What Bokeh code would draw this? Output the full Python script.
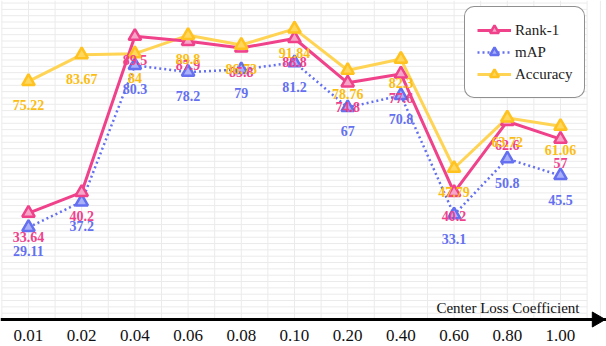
import numpy as np
from bokeh.plotting import figure
from bokeh.models import (ColumnDataSource, Range1d, LinearAxis, FixedTicker,
                          Legend, LegendItem, Label)
from bokeh.core.properties import value
from bokeh.embed import file_html
from bokeh.resources import INLINE

categories = ["0.01", "0.02", "0.04", "0.06", "0.08", "0.10", "0.20", "0.40", "0.60", "0.80", "1.00"]
rank1 = [33.64, 40.2, 89.5, 87.9, 85.8, 88.8, 74.8, 77.6, 40.2, 62.6, 57]
mAP = [29.11, 37.2, 80.3, 78.2, 79, 81.2, 67, 70.8, 33.1, 50.8, 45.5]
accuracy = [75.22, 83.67, 84, 89.8, 86.73, 91.84, 78.76, 82.3, 47.79, 63.72, 61.06]
axis_title = "Center Loss Coefficient"

xs = list(range(len(categories)))

SERIF = "Liberation Serif"

p = figure(width=606, height=346, output_backend="svg", toolbar_location=None,
           x_range=Range1d(-0.526, 10.865), y_range=Range1d(-8.53, 100.8),
           x_axis_type=None, y_axis_type=None,
           min_border_left=0, min_border_right=0, min_border_top=0, min_border_bottom=0)
p.outline_line_color = None
p.background_fill_color = "white"
p.border_fill_color = "white"

# background grid (spreadsheet-like)
GRID = "#ebebeb"
vx = [i * 0.5 - 0.5 for i in range(23)]
p.segment(x0=vx, x1=vx, y0=[0] * len(vx), y1=[100.8] * len(vx), line_color=GRID, line_width=1)
p.segment(x0=[10.75], x1=[10.75], y0=[0], y1=[100.8], line_color=GRID, line_width=1)
hy = list(np.arange(2, 101, 2))
p.segment(x0=[-0.5] * len(hy), x1=[10.5] * len(hy), y0=hy, y1=hy, line_color=GRID, line_width=1)

# x axis, drawn at y = 0
xaxis = LinearAxis(ticker=FixedTicker(ticks=xs), fixed_location=0,
                   major_label_overrides={i: c for i, c in zip(xs, categories)})
xaxis.axis_line_color = "black"
xaxis.axis_line_width = 3
xaxis.major_tick_line_color = None
xaxis.minor_tick_line_color = None
xaxis.major_tick_out = 0
xaxis.major_tick_in = 0
xaxis.major_label_standoff = 10
xaxis.major_label_text_font = SERIF
xaxis.major_label_text_font_size = "17px"
xaxis.major_label_text_color = "#111111"
p.add_layout(xaxis, "below")

# arrow head at the end of the axis
p.scatter(x=[10.68], y=[0], marker="triangle", size=15, angle=-np.pi / 2,
          fill_color="black", line_color="black", line_width=1)

p.add_layout(Label(x=10.357, y=3.5, text=axis_title, text_align="right", text_baseline="middle",
                   text_font=SERIF, text_font_size="15px", text_color="#111111"))

PINK, PINK_F = "#f0418b", "#f5a6c8"
BLUE, BLUE_F = "#6470f0", "#a9b0f8"
GOLD_L, GOLD_E, GOLD_F, GOLD_T = "#ffd454", "#ffc21f", "#ffd65e", "#fbbd13"

src_r = ColumnDataSource(dict(x=xs, y=rank1, t=[f"{v:g}" for v in rank1]))
src_m = ColumnDataSource(dict(x=xs, y=mAP, t=[f"{v:g}" for v in mAP]))
src_a = ColumnDataSource(dict(x=xs, y=accuracy, t=[f"{v:g}" for v in accuracy]))

lm = p.line("x", "y", source=src_m, line_color=BLUE, line_width=2.5, line_dash="2 3")
la = p.line("x", "y", source=src_a, line_color=GOLD_L, line_width=3)
lr = p.line("x", "y", source=src_r, line_color=PINK, line_width=3)

sm = p.scatter("x", "y", source=src_m, marker="triangle", size=12.5,
               fill_color=BLUE_F, line_color=BLUE, line_width=2.5)
sr = p.scatter("x", "y", source=src_r, marker="triangle", size=12.5,
               fill_color=PINK_F, line_color=PINK, line_width=2.5)
sa = p.scatter("x", "y", source=src_a, marker="triangle", size=12.5,
               fill_color=GOLD_F, line_color=GOLD_E, line_width=2.5)

for src, col in ((src_m, BLUE), (src_r, PINK), (src_a, GOLD_T)):
    p.text("x", "y", text="t", source=src, y_offset=24, text_align="center",
           text_baseline="middle", text_font=value(SERIF), text_font_style="bold",
           text_font_size=value("14px"), text_color=col)

legend = Legend(items=[LegendItem(label="Rank-1", renderers=[lr, sr]),
                       LegendItem(label="mAP", renderers=[lm, sm]),
                       LegendItem(label="Accuracy", renderers=[la, sa])],
                location=(464, 248))
legend.label_text_font = SERIF
legend.label_text_font_size = "15px"
legend.label_text_color = "#222222"
legend.glyph_width = 34
legend.glyph_height = 22
legend.label_height = 22
legend.spacing = 0
legend.padding = 12
legend.label_standoff = 4
legend.margin = 0
legend.border_line_color = "#222222"
legend.border_line_width = 1.5
legend.background_fill_color = "white"
legend.background_fill_alpha = 1
if "border_radius" in Legend.properties():
    legend.border_radius = 10
p.add_layout(legend, "center")

open("out.html", "w").write(file_html(p, INLINE))
